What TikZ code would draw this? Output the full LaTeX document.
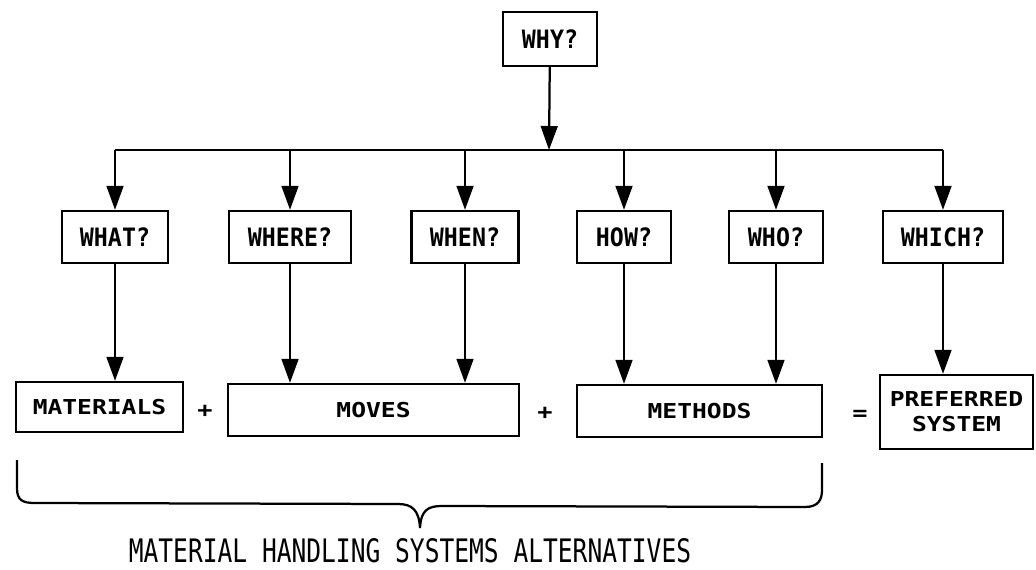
\documentclass[tikz,border=0pt]{standalone}
\usepackage{fontspec}
\usetikzlibrary{arrows.meta,positioning}
\newfontfamily\askfont[FakeStretch=0.92]{DejaVu Sans Mono}
\newfontfamily\partfont[FakeStretch=1.2]{DejaVu Sans Mono}
\newfontfamily\captfont[FakeStretch=0.76]{DejaVu Sans Mono}
\tikzset{ask/.style={draw, line width=1.6pt, inner sep=0pt, minimum height=1.3cm,
    font=\askfont\bfseries\fontsize{18}{20}\selectfont},
  part/.style={draw, line width=1.6pt, inner sep=0pt, minimum height=1.3cm, align=center,
    font=\partfont\bfseries\fontsize{14.6}{17.8}\selectfont},
  sign/.style={inner sep=0pt, font=\partfont\bfseries\fontsize{15}{18}\selectfont}
}
\begin{document}
\begin{tikzpicture}[x=0.025cm, y=-0.025cm, line width=1.6pt,
    >={Triangle[length=0.6cm,width=0.42cm]}]
  \useasboundingbox (0,0) rectangle (1036,570);
  % questions
  \node[ask, minimum width=2.35cm, minimum height=1.35cm] (why) at (550,39) {WHY?};
  \coordinate (bus) at (549,150);
  \node[ask, minimum width=2.65cm]  (what)  at (115,237) {WHAT?};
  \node[ask, minimum width=3.05cm]  (where) at (290,237) {WHERE?};
  \node[ask, minimum width=2.675cm] (when)  at (465,237) {WHEN?};
  \node[ask, minimum width=2.35cm]  (how)   at (624,237) {HOW?};
  \node[ask, minimum width=2.35cm]  (who)   at (776,237) {WHO?};
  \node[ask, minimum width=3.0cm]   (which) at (943,237) {WHICH?};
  % answers
  \node[part, minimum width=4.175cm, minimum height=1.25cm] (materials) at (99.5,407) {MATERIALS};
  \node[part, minimum width=7.275cm] (moves)   at (373.5,410) {MOVES};
  \node[part, minimum width=6.125cm] (methods) at (699.5,411) {METHODS};
  \node[part, minimum width=3.825cm, minimum height=1.85cm] (system) at (956.5,412) {PREFERRED\\SYSTEM};
  \node[sign] (plus1)  at (205,411) {+};
  \node[sign] (plus2)  at (545,413) {+};
  \node[sign] (equals) at (860,415) {=};
  % connectors
  \draw[->] (why) -- (bus);
  \draw (what |- bus) -- (which |- bus);
  \foreach \q in {what,where,when,how,who,which}
    \draw[->] (\q |- bus) -- (\q);
  \draw[->] (what)  -- (what |- materials.north);
  \draw[->] (where) -- (where |- moves.north);
  \draw[->] (when)  -- (when |- moves.north);
  \draw[->] (how)   -- (how |- methods.north);
  \draw[->] (who)   -- (who |- methods.north);
  \draw[->] (which) -- (which |- system.north);
  % brace
  \coordinate (tip) at (420,528);
  \draw (17,460) -- (17,488) .. controls (17,500) and (22,503) .. (35,503) -- (398,504)
    .. controls (412,504) and (419,510) .. (tip)
    .. controls (421,510) and (428,506) .. (442,506) -- (805,507)
    .. controls (818,507) and (822,500) .. (822,490) -- (822,463);
  \node[font=\captfont\fontsize{23}{26}\selectfont, anchor=base, inner sep=0pt] (caption)
    at (410,562) {MATERIAL HANDLING SYSTEMS ALTERNATIVES};
\end{tikzpicture}
\end{document}
